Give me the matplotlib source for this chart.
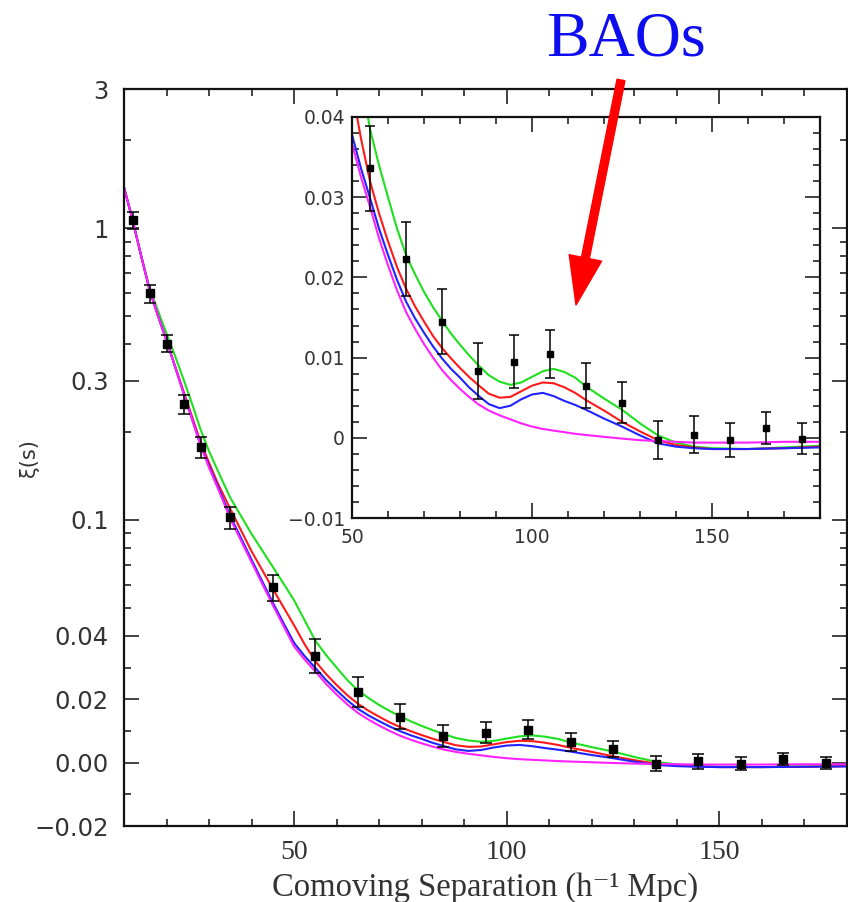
import numpy as np
import matplotlib.pyplot as plt
from matplotlib.ticker import FixedLocator, FixedFormatter, MultipleLocator, FuncFormatter

# measured correlation function (black squares)
r_data = [12, 16, 20, 24, 28, 35, 45, 55, 65, 75, 85, 95, 105, 115, 125, 135, 145, 155, 165, 175]
xi_data = [1.065, 0.598, 0.402, 0.250, 0.178, 0.102, 0.0589, 0.0336, 0.0223, 0.0145, 0.0083,
           0.0095, 0.0104, 0.0065, 0.0044, -0.0003, 0.0004, -0.0003, 0.0012, -0.0001]
xi_err = [0.070, 0.043, 0.027, 0.019, 0.015, 0.009, 0.006, 0.0053, 0.0046, 0.0040, 0.0035,
          0.0033, 0.0030, 0.0028, 0.0025, 0.0024, 0.0023, 0.0021, 0.0020, 0.0019]

# model curves
r_model = [10, 12, 14, 16, 18, 20, 22, 24, 26, 28, 30, 32, 35, 37.5, 40, 42.5, 45, 47.5, 50,
           52.5, 55, 57.5, 60, 62.5, 65, 67.5, 70, 72.5, 75, 77.5, 80, 82.5, 85, 88, 91, 94,
           97, 100, 103, 106, 109, 112, 115, 120, 125, 130, 135, 140, 145, 150, 160, 170, 180]
xi_green = [1.38, 1.07, 0.81, 0.625, 0.52, 0.435, 0.365, 0.303, 0.25, 0.204, 0.172, 0.148, 0.119,
            0.1032, 0.0895, 0.0786, 0.069, 0.0605, 0.053, 0.0452, 0.0385, 0.0340, 0.030, 0.0261,
            0.0228, 0.0204, 0.0182, 0.0163, 0.0146, 0.0130, 0.0116, 0.0103, 0.0091, 0.0078,
            0.0070, 0.0066, 0.0069, 0.0076, 0.0083, 0.0086, 0.0082, 0.0075, 0.0064, 0.0049,
            0.0035, 0.0018, 0.0003, -0.0006, -0.0011, -0.0013, -0.0014, -0.0012, -0.0010]
xi_red = [1.38, 1.07, 0.807, 0.615, 0.500, 0.412, 0.337, 0.276, 0.226, 0.185, 0.157, 0.134, 0.109,
          0.0922, 0.078, 0.0673, 0.058, 0.0502, 0.0435, 0.0373, 0.0320, 0.0280, 0.0245, 0.0213,
          0.0186, 0.0164, 0.0145, 0.0127, 0.0112, 0.0099, 0.0087, 0.0076, 0.0066, 0.0055,
          0.0050, 0.0051, 0.0058, 0.0065, 0.0069, 0.0068, 0.0063, 0.0056, 0.0047, 0.0034,
          0.0020, 0.0008, -0.0003, -0.0009, -0.0012, -0.0014, -0.0014, -0.0013, -0.0011]
xi_blue = [1.38, 1.07, 0.807, 0.615, 0.500, 0.412, 0.335, 0.272, 0.222, 0.181, 0.153, 0.131, 0.103,
           0.0867, 0.073, 0.0616, 0.052, 0.0443, 0.0378, 0.0336, 0.0299, 0.0261, 0.0228, 0.0197,
           0.0170, 0.0149, 0.0131, 0.0114, 0.0099, 0.0086, 0.0075, 0.0063, 0.0053, 0.0042,
           0.0037, 0.0040, 0.0048, 0.0054, 0.0056, 0.0052, 0.0046, 0.0041, 0.0035, 0.0024,
           0.0014, 0.0003, -0.0007, -0.0011, -0.0013, -0.0014, -0.0014, -0.0013, -0.0012]
xi_magenta = [1.38, 1.07, 0.807, 0.615, 0.500, 0.412, 0.335, 0.272, 0.221, 0.180, 0.151, 0.129,
              0.101, 0.085, 0.0716, 0.0604, 0.051, 0.0433, 0.0367, 0.0325, 0.0288, 0.0249,
              0.0215, 0.0184, 0.0157, 0.0136, 0.0117, 0.0100, 0.00845, 0.0072, 0.0061, 0.0051,
              0.0042, 0.0034, 0.0028, 0.0023, 0.0018, 0.0014, 0.0011, 0.0009, 0.0007, 0.0005,
              0.00035, 0.00012, -0.0001, -0.0003, -0.0004, -0.0005, -0.0006, -0.0006, -0.0006,
              -0.0005, -0.0005]

models = [(xi_green, "#1fe01f"), (xi_red, "#ff1a1a"), (xi_blue, "#2222ff"), (xi_magenta, "#ff22ff")]

main_yticks = [3, 1, 0.3, 0.1, 0.04, 0.02, 0.0, -0.02]
main_ylabels = ["3", "1", "0.3", "0.1", "0.04", "0.02", "0.00", "\u22120.02"]
main_yminor = [2, 0.9, 0.8, 0.7, 0.6, 0.5, 0.4, 0.2, 0.09, 0.08, 0.07, 0.06, 0.05, 0.03, 0.01, -0.01]

XI_BREAK = 0.04
SERIF = ["Liberation Serif", "DejaVu Serif"]


def fwd(v):
    """Log above 0.04, linear below, with matching slope."""
    v = np.asarray(v, dtype=float)
    lin = np.log10(XI_BREAK) + (v - XI_BREAK) / (XI_BREAK * np.log(10))
    return np.where(v >= XI_BREAK, np.log10(np.maximum(v, XI_BREAK)), lin)


def inv(u):
    u = np.asarray(u, dtype=float)
    u0 = np.log10(XI_BREAK)
    lin = XI_BREAK + (u - u0) * XI_BREAK * np.log(10)
    return np.where(u >= u0, 10 ** np.minimum(u, 10), lin)


def draw_data(ax, ms, cap):
    for xi, col in models:
        ax.plot(r_model, xi, color=col, lw=1.5, zorder=2)
    ax.errorbar(r_data, xi_data, yerr=xi_err, fmt="s", color="black", ms=ms,
                ecolor="black", elinewidth=1.1, capsize=cap, capthick=1.1, zorder=3)


def main():
    fig = plt.figure(figsize=(8.48, 9.02), dpi=100)

    # main panel
    ax = fig.add_axes([124 / 848, 76 / 902, 723 / 848, 737 / 902])
    draw_data(ax, 5.5, 4.5)
    ax.set_yscale("function", functions=(fwd, inv))
    ax.set_xlim(10, 180)
    ax.set_ylim(-0.02, 3)
    ax.yaxis.set_major_locator(FixedLocator(main_yticks))
    ax.yaxis.set_major_formatter(FixedFormatter(main_ylabels))
    ax.yaxis.set_minor_locator(FixedLocator(main_yminor))
    ax.xaxis.set_major_locator(FixedLocator([50, 100, 150]))
    ax.xaxis.set_minor_locator(MultipleLocator(10))
    ax.tick_params(which="both", direction="in", top=True, right=True, width=1.2, colors="#222222")
    ax.tick_params(which="major", length=11)
    ax.tick_params(which="minor", length=5)
    ax.tick_params(axis="y", which="major", pad=11, labelsize=17.5, labelcolor="#333333")
    ax.tick_params(axis="x", which="major", pad=10, labelsize=20, labelcolor="#333333")
    for lab in ax.get_xticklabels():
        lab.set_family(SERIF)
    for sp in ax.spines.values():
        sp.set_linewidth(1.6)
        sp.set_color("#111111")
    ax.set_xlabel("Comoving Separation (h\u207b\u00b9 Mpc)", family=SERIF,
                  fontsize=23.5, color="#333333", labelpad=5)
    ax.set_ylabel("\u03be(s)", fontsize=15, color="#333333")
    ax.yaxis.set_label_coords(-0.118, 0.5)

    # inset
    axi = fig.add_axes([352 / 848, 384 / 902, 468 / 848, 401 / 902], zorder=5)
    axi.set_facecolor("white")
    draw_data(axi, 5, 3.8)
    axi.set_xlim(50, 180)
    axi.set_ylim(-0.01, 0.04)
    axi.xaxis.set_major_locator(MultipleLocator(50))
    axi.xaxis.set_minor_locator(MultipleLocator(10))
    axi.yaxis.set_major_locator(MultipleLocator(0.01))
    axi.yaxis.set_minor_locator(MultipleLocator(0.002))
    axi.yaxis.set_major_formatter(FuncFormatter(
        lambda v, _: "0" if abs(v) < 1e-9 else f"{v:.2f}".replace("-", "\u2212")))
    axi.tick_params(which="both", direction="in", top=True, right=True, width=1.2, colors="#222222")
    axi.tick_params(which="major", length=11)
    axi.tick_params(which="minor", length=5)
    axi.tick_params(axis="y", which="major", pad=5, labelsize=13.5, labelcolor="#333333")
    axi.tick_params(axis="x", which="major", pad=7, labelsize=13.5, labelcolor="#333333")
    for sp in axi.spines.values():
        sp.set_linewidth(1.6)
        sp.set_color("#111111")

    # annotation
    fig.text(626 / 848, 1 - 55 / 902, "BAOs", color="#0d0df0", fontsize=46,
             family=SERIF, ha="center", va="baseline")
    arrow = plt.Annotation(
        "", xy=(576, 902 - 305), xycoords="figure pixels",
        xytext=(621, 902 - 80), textcoords="figure pixels",
        arrowprops=dict(arrowstyle="simple, head_length=0.96, head_width=0.66, tail_width=0.16",
                        color="red", mutation_scale=36, shrinkA=0, shrinkB=0))
    arrow.set_zorder(20)
    fig.add_artist(arrow)

    plt.savefig("out.png", dpi=100)
    plt.close()


if __name__ == "__main__":
    main()
